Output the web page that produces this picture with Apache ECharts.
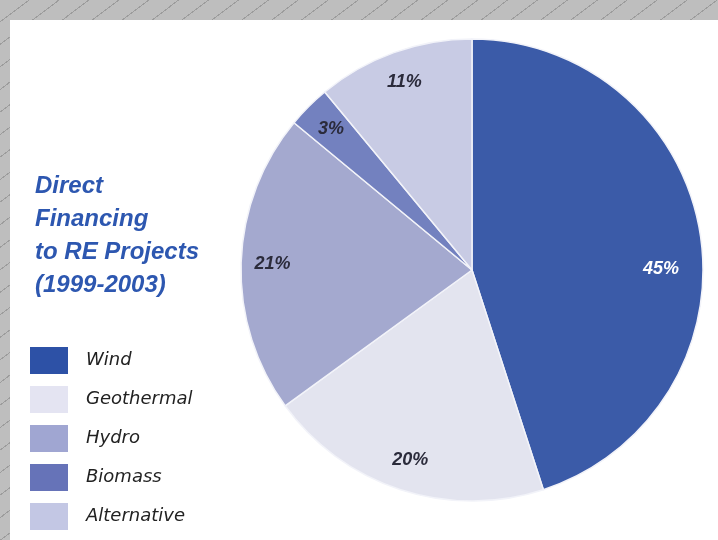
<!DOCTYPE html>
<html>
<head>
<meta charset="utf-8">
<script src="https://cdn.jsdelivr.net/npm/echarts@6/dist/echarts.min.js"></script>
<style>
  html, body { margin: 0; padding: 0; width: 718px; height: 540px; overflow: hidden; }
  body {
    background-color: #bebebe;
    background-image: repeating-linear-gradient(143deg, rgba(0,0,0,0) 0px, rgba(0,0,0,0) 17px, #9c9c9c 17px, #9c9c9c 18px);
  }
  #panel { position: absolute; left: 10px; top: 20px; width: 708px; height: 520px; background: #ffffff; }
  #chart { position: absolute; left: 0; top: 0; width: 718px; height: 540px; }
</style>
</head>
<body>
<div id="panel"></div>
<div id="chart"></div>
<script>
const categories = ['Wind', 'Geothermal', 'Hydro', 'Biomass', 'Alternative'];
const shares = [45, 20, 21, 3, 11];
const sliceColors = ['#3b5ba8', '#e3e4ef', '#a4a9cf', '#7381bf', '#c8cbe4'];
const legendColors = ['#2d51a6', '#e4e4f2', '#a0a6d2', '#6673b8', '#c3c7e4'];
const labelColors = ['#ffffff', '#2b2b3b', '#2b2b3b', '#2b2b3b', '#2b2b3b'];
const titleLines = ['Direct', 'Financing', 'to RE Projects', '(1999-2003)'];

const chart = echarts.init(document.getElementById('chart'), null, { renderer: 'canvas' });

const pieData = categories.map((name, i) => ({
  name: name,
  value: shares[i],
  itemStyle: { color: sliceColors[i] }
}));

const labelData = categories.map((name, i) => ({
  name: name,
  value: shares[i],
  itemStyle: { color: 'rgba(0,0,0,0)' },
  label: i === 0 ? { color: labelColors[i], offset: [-8, 30] } : { color: labelColors[i] }
}));

const option = {
  backgroundColor: 'transparent',
  animation: false,
  title: {
    text: titleLines.join('\n'),
    left: 30,
    top: 165,
    textStyle: {
      fontFamily: 'Liberation Sans',
      fontSize: 24,
      fontStyle: 'italic',
      fontWeight: 'bold',
      lineHeight: 33,
      color: '#2d57b0'
    }
  },
  legend: {
    orient: 'vertical',
    left: 25,
    top: 342,
    height: 220,
    itemWidth: 38,
    itemHeight: 27,
    itemGap: 12,
    icon: 'rect',
    selectedMode: false,
    itemStyle: { borderWidth: 0 },
    data: categories.map((name, i) => ({ name: name, itemStyle: { color: legendColors[i], borderWidth: 0 } })),
    textStyle: {
      fontFamily: 'DejaVu Sans',
      fontSize: 18,
      fontStyle: 'italic',
      color: '#222222',
      lineHeight: 27,
      padding: [0, 0, 0, 13]
    }
  },
  series: [
    {
      type: 'pie',
      center: [472, 270],
      radius: [0, 231],
      startAngle: 90,
      clockwise: true,
      silent: true,
      label: { show: false },
      labelLine: { show: false },
      itemStyle: { borderColor: '#f2f3f9', borderWidth: 1.5 },
      data: pieData
    },
    {
      type: 'pie',
      center: [472, 270],
      radius: [162, 231],
      startAngle: 90,
      clockwise: true,
      silent: true,
      label: {
        show: true,
        position: 'inside',
        formatter: '{c}%',
        fontFamily: 'Liberation Sans',
        fontSize: 18,
        fontStyle: 'italic',
        fontWeight: 'bold'
      },
      labelLine: { show: false },
      data: labelData
    }
  ]
};

chart.setOption(option);
</script>
</body>
</html>
